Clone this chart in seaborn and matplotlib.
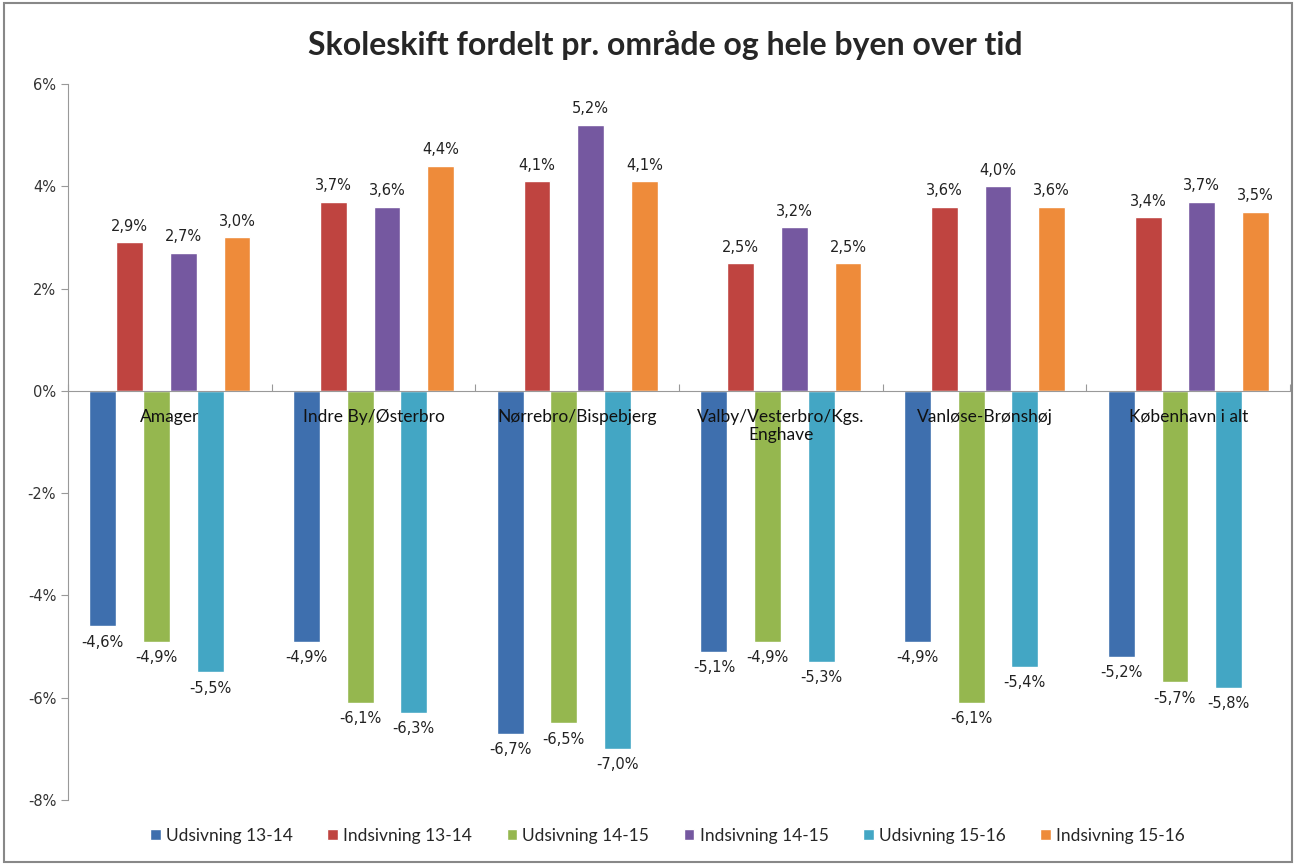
import pandas as pd
import matplotlib.pyplot as plt
import seaborn as sns
from matplotlib.patches import Rectangle

# Data
omraader = ['Amager', 'Indre By/Østerbro', 'Nørrebro/Bispebjerg',
            'Valby/Vesterbro/Kgs.\nEnghave', 'Vanløse-Brønshøj', 'København i alt']
serier = ['Udsivning 13-14', 'Indsivning 13-14', 'Udsivning 14-15',
          'Indsivning 14-15', 'Udsivning 15-16', 'Indsivning 15-16']
udsivning_13_14 = [-4.6, -4.9, -6.7, -5.1, -4.9, -5.2]
indsivning_13_14 = [2.9, 3.7, 4.1, 2.5, 3.6, 3.4]
udsivning_14_15 = [-4.9, -6.1, -6.5, -4.9, -6.1, -5.7]
indsivning_14_15 = [2.7, 3.6, 5.2, 3.2, 4.0, 3.7]
udsivning_15_16 = [-5.5, -6.3, -7.0, -5.3, -5.4, -5.8]
indsivning_15_16 = [3.0, 4.4, 4.1, 2.5, 3.6, 3.5]
farver = ['#3e6fae', '#bf4440', '#95b74f', '#7558a0', '#43a6c4', '#ee8b3a']

vaerdier = [udsivning_13_14, indsivning_13_14, udsivning_14_15,
            indsivning_14_15, udsivning_15_16, indsivning_15_16]
rows = []
for s, vals in zip(serier, vaerdier):
    for o, v in zip(omraader, vals):
        rows.append({'område': o, 'serie': s, 'værdi': v})
df = pd.DataFrame(rows)

sns.set_style('white')
plt.rcParams['font.family'] = ['DejaVu Sans']

fig = plt.figure(figsize=(12.96, 8.65), dpi=100)
ax = fig.add_axes([0.0525, 0.075, 0.943, 0.828])

sns.barplot(data=df, x='område', y='værdi', hue='serie', order=omraader,
            hue_order=serier, palette=farver, width=0.79, gap=0,
            errorbar=None, saturation=1, ax=ax)

# Data labels
for cont, vals in zip(ax.containers, vaerdier):
    labels = [f"{v:.1f}%".replace('.', ',') for v in vals]
    ax.bar_label(cont, labels=labels, padding=6, fontsize=10.5, color='#222222')

ax.set_ylim(-8, 6)
ax.set_xlim(-0.5, len(omraader) - 0.5)
ax.set_yticks(range(-8, 7, 2))
ax.set_yticklabels([f"{t}%" for t in range(-8, 7, 2)], fontsize=10.5, color='#333333')
ax.set_xticks([i - 0.5 for i in range(len(omraader) + 1)])
ax.set_xticklabels([])
ax.tick_params(axis='y', direction='out', length=5, color='#999999', left=True)
ax.tick_params(axis='x', direction='in', length=5, color='#999999', bottom=True)
ax.set_xlabel('')
ax.set_ylabel('')

for side in ['top', 'right']:
    ax.spines[side].set_visible(False)
ax.spines['bottom'].set_position(('data', 0))
ax.spines['bottom'].set_color('#999999')
ax.spines['left'].set_color('#999999')

# Category labels just below the zero line
for i, o in enumerate(omraader):
    ax.text(i, -0.35, o, ha='center', va='top', fontsize=12.5,
            family='Lato', color='#111111', linespacing=1.2)

leg = ax.legend(loc='center', ncol=6, frameon=False, handlelength=0.6, handleheight=0.6,
                handletextpad=0.3, columnspacing=2.0,
                prop={'family': 'Lato', 'size': 12.5})
leg.set_bbox_to_anchor((0.515, 1 - 836 / 865), transform=fig.transFigure)

fig.text(0.513, 1 - 45 / 865, 'Skoleskift fordelt pr. område og hele byen over tid',
         ha='center', va='center', fontsize=23, fontweight='bold', family='Lato')

fig.patches.append(Rectangle((0.003, 0.003), 0.994, 0.994, transform=fig.transFigure,
                             fill=False, edgecolor='#888888', linewidth=1.5))

fig.savefig('out.png', dpi=100)
